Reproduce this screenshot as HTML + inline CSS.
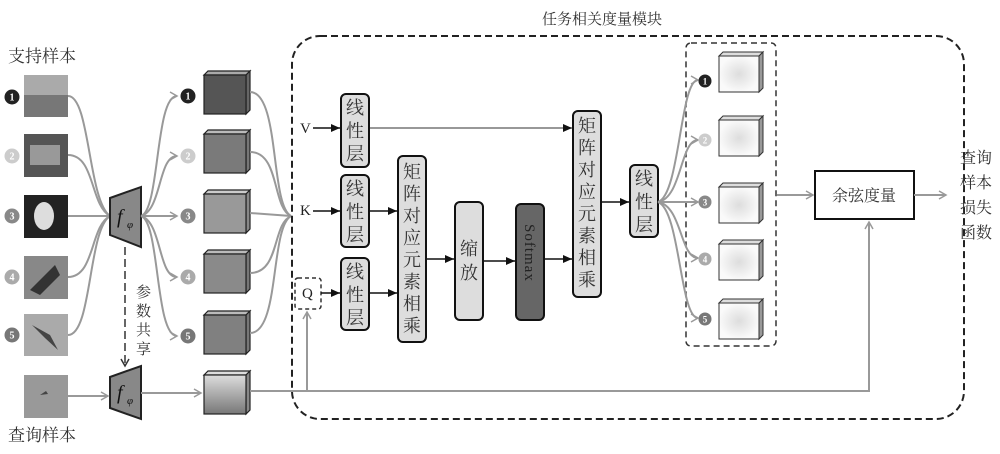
<!DOCTYPE html>
<html><head><meta charset="utf-8"><style>
body{margin:0;background:#fff;}
svg text{font-family:"Liberation Serif","Noto Serif CJK SC",serif;}
</style></head><body>
<svg width="1000" height="449" viewBox="0 0 1000 449" xmlns="http://www.w3.org/2000/svg">
<defs>
<marker id="ga" markerWidth="10" markerHeight="10" refX="8" refY="5" orient="auto" markerUnits="userSpaceOnUse"><path d="M1,1 L8,5 L1,9" fill="none" stroke="#999" stroke-width="1.5"/></marker>
<marker id="ba" markerWidth="10" markerHeight="10" refX="9" refY="5" orient="auto" markerUnits="userSpaceOnUse"><path d="M0,1 L9,5 L0,9 z" fill="#111"/></marker>
<linearGradient id="qg" x1="0" y1="0" x2="0" y2="1"><stop offset="0" stop-color="#ddd"/><stop offset="1" stop-color="#777"/></linearGradient>
<radialGradient id="wg"><stop offset="0" stop-color="#ddd"/><stop offset="1" stop-color="#fafafa"/></radialGradient>
</defs>

<text x="542" y="24" font-size="15" fill="#333">任务相关度量模块</text>
<text x="8" y="62" font-size="17" fill="#333">支持样本</text>
<text x="8" y="441" font-size="17" fill="#333">查询样本</text>

<!-- images -->
<rect x="24" y="75" width="44" height="42" fill="#777"/><rect x="24" y="75" width="44" height="20" fill="#aaa"/>
<rect x="24" y="134" width="44" height="43" fill="#555"/><rect x="30" y="145" width="30" height="20" fill="#999"/>
<rect x="24" y="195" width="44" height="43" fill="#222"/><ellipse cx="44" cy="216" rx="10" ry="14" fill="#ddd"/>
<rect x="24" y="256" width="44" height="43" fill="#888"/><path d="M30,290 L55,265 L60,275 L40,295z" fill="#333"/>
<rect x="24" y="314" width="44" height="42" fill="#aaa"/><path d="M32,325 L50,335 L58,350 L45,338z" fill="#444"/>
<rect x="24" y="375" width="44" height="43" fill="#999"/><path d="M40,395 l6,-4 l2,3z" fill="#444"/>

<!-- left circles -->
<g font-size="10" font-weight="bold" fill="#fff" text-anchor="middle" font-family="Liberation Sans">
<circle cx="12" cy="97" r="7.5" fill="#222"/><text x="12" y="100.5">1</text>
<circle cx="12" cy="156" r="7.5" fill="#ccc"/><text x="12" y="159.5">2</text>
<circle cx="12" cy="216" r="7.5" fill="#888"/><text x="12" y="219.5">3</text>
<circle cx="12" cy="277" r="7.5" fill="#aaa"/><text x="12" y="280.5">4</text>
<circle cx="12" cy="335" r="7.5" fill="#777"/><text x="12" y="338.5">5</text>
</g>

<g fill="none" stroke="#999" stroke-width="2">
<path d="M68,96 C90,96 88,200 110,216"/>
<path d="M68,155 C95,155 90,205 110,216"/>
<path d="M68,216 L110,216"/>
<path d="M68,277 C95,277 90,226 110,216"/>
<path d="M68,335 C92,335 88,230 110,216"/>
</g>

<!-- encoders -->
<polygon points="110,198 141,187 141,247 110,235" fill="#888" stroke="#222" stroke-width="2"/>
<text x="117" y="223" font-size="20" font-style="italic" fill="#111">f</text><text x="127" y="228" font-size="11" font-style="italic" fill="#111">φ</text>
<polygon points="110,377 141,366 141,419 110,408" fill="#888" stroke="#222" stroke-width="2"/>
<text x="117" y="399" font-size="20" font-style="italic" fill="#111">f</text><text x="127" y="404" font-size="11" font-style="italic" fill="#111">φ</text>
<line x1="125" y1="247" x2="125" y2="364" stroke="#333" stroke-width="1.5" stroke-dasharray="8,4"/>
<path d="M121,359 L125,366 L129,359" fill="none" stroke="#333" stroke-width="1.5"/>
<g font-size="15" fill="#333"><text x="136" y="297">参</text><text x="136" y="316">数</text><text x="136" y="335">共</text><text x="136" y="354">享</text></g>

<line x1="68" y1="396" x2="108" y2="396" stroke="#999" stroke-width="2" marker-end="url(#ga)"/>
<line x1="141" y1="393" x2="201" y2="393" stroke="#999" stroke-width="2" marker-end="url(#ga)"/>

<g fill="none" stroke="#999" stroke-width="2" marker-end="url(#ga)">
<path d="M141,216 C160,210 155,96 177,96"/>
<path d="M141,216 C162,210 158,156 177,156"/>
<path d="M141,216 L177,216"/>
<path d="M141,216 C162,222 158,277 177,277"/>
<path d="M141,216 C160,222 155,336 177,336"/>
</g>
<g font-size="10" font-weight="bold" fill="#fff" text-anchor="middle" font-family="Liberation Sans">
<circle cx="188" cy="96" r="7.5" fill="#222"/><text x="188" y="99.5">1</text>
<circle cx="188" cy="156" r="7.5" fill="#ccc"/><text x="188" y="159.5">2</text>
<circle cx="188" cy="216" r="7.5" fill="#888"/><text x="188" y="219.5">3</text>
<circle cx="188" cy="277" r="7.5" fill="#aaa"/><text x="188" y="280.5">4</text>
<circle cx="188" cy="336" r="7.5" fill="#777"/><text x="188" y="339.5">5</text>
</g>

<!-- cubes -->
<g stroke="#222" stroke-width="1.2">
<g><polygon points="204,75 208,71 250,71 246,75" fill="#aaa"/><polygon points="246,75 250,71 250,110 246,114" fill="#666"/><rect x="204" y="75" width="42" height="39" fill="#555"/></g>
<g><polygon points="204,134 208,130 250,130 246,134" fill="#bbb"/><polygon points="246,134 250,130 250,169 246,173" fill="#777"/><rect x="204" y="134" width="42" height="39" fill="#7a7a7a"/></g>
<g><polygon points="204,194 208,190 250,190 246,194" fill="#ccc"/><polygon points="246,194 250,190 250,229 246,233" fill="#888"/><rect x="204" y="194" width="42" height="39" fill="#999"/></g>
<g><polygon points="204,254 208,250 250,250 246,254" fill="#bbb"/><polygon points="246,254 250,250 250,289 246,293" fill="#777"/><rect x="204" y="254" width="42" height="39" fill="#8a8a8a"/></g>
<g><polygon points="204,315 208,311 250,311 246,315" fill="#bbb"/><polygon points="246,315 250,311 250,350 246,354" fill="#777"/><rect x="204" y="315" width="42" height="39" fill="#808080"/></g>
<g><polygon points="204,375 208,371 250,371 246,375" fill="#ddd"/><polygon points="246,375 250,371 250,410 246,414" fill="#888"/><rect x="204" y="375" width="42" height="39" fill="url(#qg)"/></g>
</g>

<g fill="none" stroke="#999" stroke-width="2">
<path d="M250,92 C280,92 270,205 291,216"/>
<path d="M250,152 C280,152 272,208 291,216"/>
<path d="M250,213 L291,216"/>
<path d="M250,273 C280,273 272,224 291,216"/>
<path d="M250,333 C280,333 270,228 291,216"/>
</g>

<rect x="292" y="36" width="672" height="383" rx="28" fill="none" stroke="#222" stroke-width="2" stroke-dasharray="7,4"/>

<polyline points="250,391 869,391 869,222" fill="none" stroke="#999" stroke-width="2" marker-end="url(#ga)"/>
<line x1="307" y1="391" x2="307" y2="312" stroke="#999" stroke-width="2" marker-end="url(#ga)"/>

<g font-size="15" fill="#222">
<text x="300" y="133">V</text><text x="300" y="215">K</text>
</g>
<rect x="295" y="278" width="26" height="31" rx="3" fill="#fff" stroke="#333" stroke-width="1.5" stroke-dasharray="4,3"/>
<text x="302" y="298" font-size="15" fill="#222">Q</text>
<g stroke="#111" stroke-width="1.5" marker-end="url(#ba)">
<line x1="313" y1="128" x2="340" y2="128"/>
<line x1="313" y1="211" x2="340" y2="211"/>
<line x1="321" y1="293" x2="340" y2="293"/>
<line x1="369" y1="128" x2="572" y2="128" stroke="#777"/>
<line x1="369" y1="211" x2="397" y2="211"/>
<line x1="369" y1="293" x2="397" y2="293"/>
<line x1="426" y1="259" x2="454" y2="259"/>
<line x1="483" y1="261" x2="515" y2="261"/>
<line x1="544" y1="259" x2="572" y2="259"/>
<line x1="601" y1="202" x2="629" y2="202"/>
</g>

<g stroke="#111" stroke-width="2">
<rect x="341" y="94" width="28" height="73" rx="5" fill="#ddd"/>
<rect x="341" y="175" width="28" height="72" rx="5" fill="#ddd"/>
<rect x="341" y="258" width="28" height="72" rx="5" fill="#ddd"/>
<rect x="398" y="156" width="28" height="186" rx="5" fill="#ddd"/>
<rect x="455" y="202" width="28" height="118" rx="5" fill="#ddd"/>
<rect x="516" y="204" width="28" height="116" rx="5" fill="#666"/>
<rect x="573" y="111" width="28" height="186" rx="5" fill="#ddd"/>
<rect x="630" y="165" width="28" height="72" rx="5" fill="#ddd"/>
</g>
<g font-size="18" fill="#333" text-anchor="middle">
<text x="355" y="114">线</text><text x="355" y="137">性</text><text x="355" y="160">层</text>
<text x="355" y="195">线</text><text x="355" y="218">性</text><text x="355" y="241">层</text>
<text x="355" y="278">线</text><text x="355" y="301">性</text><text x="355" y="324">层</text>
<text x="412" y="178">矩</text><text x="412" y="200">阵</text><text x="412" y="222">对</text><text x="412" y="244">应</text><text x="412" y="266">元</text><text x="412" y="288">素</text><text x="412" y="310">相</text><text x="412" y="332">乘</text>
<text x="469" y="255">缩</text><text x="469" y="279">放</text>
<text x="587" y="132">矩</text><text x="587" y="154">阵</text><text x="587" y="176">对</text><text x="587" y="198">应</text><text x="587" y="220">元</text><text x="587" y="242">素</text><text x="587" y="264">相</text><text x="587" y="286">乘</text>
<text x="644" y="185">线</text><text x="644" y="208">性</text><text x="644" y="231">层</text>
</g>
<text x="0" y="0" font-size="15" fill="#222" transform="translate(525,224) rotate(90)" letter-spacing="1">Softmax</text>

<rect x="686" y="43" width="90" height="303" rx="5" fill="none" stroke="#333" stroke-width="1.5" stroke-dasharray="6,4"/>
<g fill="none" stroke="#999" stroke-width="2" marker-end="url(#ga)">
<path d="M658,202 C680,195 680,80 698,80"/>
<path d="M658,202 C682,198 680,140 698,140"/>
<path d="M658,202 L698,202"/>
<path d="M658,202 C682,206 680,258 698,258"/>
<path d="M658,202 C680,210 680,318 698,318"/>
</g>
<g font-size="9" font-weight="bold" fill="#fff" text-anchor="middle" font-family="Liberation Sans">
<circle cx="705" cy="81" r="6.5" fill="#222"/><text x="705" y="84.5">1</text>
<circle cx="705" cy="140" r="6.5" fill="#ccc"/><text x="705" y="143.5">2</text>
<circle cx="705" cy="202" r="6.5" fill="#888"/><text x="705" y="205.5">3</text>
<circle cx="705" cy="259" r="6.5" fill="#aaa"/><text x="705" y="262.5">4</text>
<circle cx="705" cy="319" r="6.5" fill="#777"/><text x="705" y="322.5">5</text>
</g>
<g stroke="#333" stroke-width="1">
<g><polygon points="719,56 723,52 763,52 759,56" fill="#ddd"/><polygon points="759,56 763,52 763,88 759,92" fill="#999"/><rect x="719" y="56" width="40" height="36" fill="url(#wg)"/></g>
<g><polygon points="719,120 723,116 763,116 759,120" fill="#ddd"/><polygon points="759,120 763,116 763,152 759,156" fill="#999"/><rect x="719" y="120" width="40" height="36" fill="url(#wg)"/></g>
<g><polygon points="719,187 723,183 763,183 759,187" fill="#ddd"/><polygon points="759,187 763,183 763,219 759,223" fill="#999"/><rect x="719" y="187" width="40" height="36" fill="url(#wg)"/></g>
<g><polygon points="719,244 723,240 763,240 759,244" fill="#ddd"/><polygon points="759,244 763,240 763,276 759,280" fill="#999"/><rect x="719" y="244" width="40" height="36" fill="url(#wg)"/></g>
<g><polygon points="719,303 723,299 763,299 759,303" fill="#ddd"/><polygon points="759,303 763,299 763,335 759,339" fill="#999"/><rect x="719" y="303" width="40" height="36" fill="url(#wg)"/></g>
</g>

<line x1="777" y1="195" x2="813" y2="195" stroke="#999" stroke-width="2" marker-end="url(#ga)"/>
<rect x="815" y="171" width="99" height="48" fill="#fff" stroke="#111" stroke-width="2"/>
<text x="864" y="201" font-size="16" fill="#333" text-anchor="middle">余弦度量</text>
<line x1="914" y1="195" x2="946" y2="195" stroke="#999" stroke-width="2" marker-end="url(#ga)"/>
<g font-size="16" fill="#333">
<text x="960" y="163">查询</text><text x="960" y="188">样本</text><text x="960" y="213">损失</text><text x="960" y="238">函数</text>
</g>
</svg>
</body></html>
